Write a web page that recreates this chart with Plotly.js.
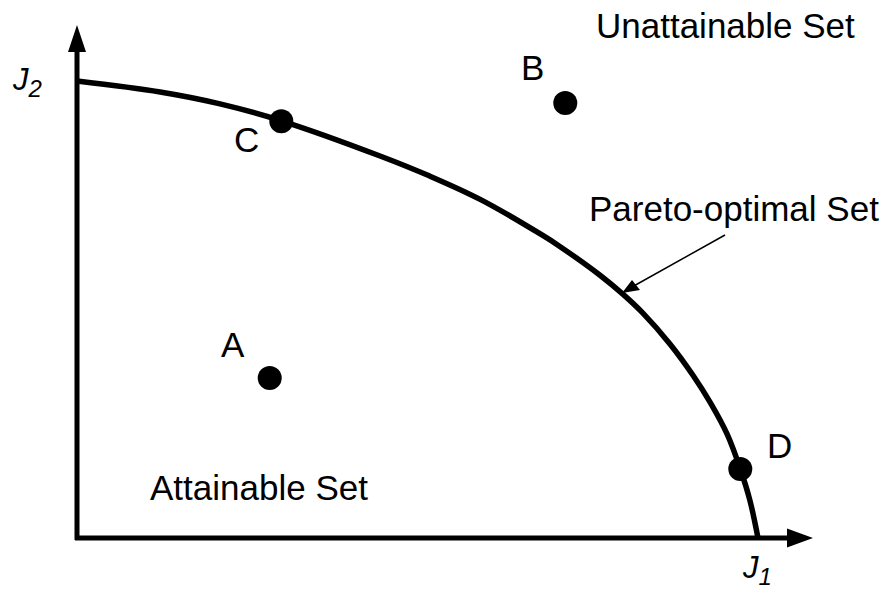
<!DOCTYPE html>
<html>
<head>
<meta charset="utf-8">
<script src="https://cdn.plot.ly/plotly-3.0.1.min.js"></script>
<style>html,body{margin:0;padding:0;background:#fff;}#chart{width:887px;height:590px;}</style>
</head>
<body>
<div id="chart"></div>
<script>
// Pareto front (J1, J2), normalized so the front meets the axes at 1
var frontJ1 = [0, 0.122, 0.210, 0.300, 0.445, 0.518, 0.592, 0.684, 0.709, 0.768, 0.802, 0.831, 0.871, 0.905, 0.930, 0.955, 0.974, 0.988, 1.0];
var frontJ2 = [1.0, 0.976, 0.950, 0.913, 0.836, 0.792, 0.741, 0.662, 0.638, 0.575, 0.533, 0.492, 0.424, 0.355, 0.296, 0.226, 0.151, 0.083, 0];

// Design points
var pointNames = ["A", "B", "C", "D"];
var pointJ1 = [0.283, 0.717, 0.300, 0.974];
var pointJ2 = [0.350, 0.952, 0.912, 0.151];

// Region labels
var regionLabels = ["Unattainable Set", "Pareto-optimal Set", "Attainable Set"];
var axisLabels = [
  "<i>J</i><sub><span style=\"font-size:24px\"><i>1</i></span></sub>",
  "<i>J</i><sub><span style=\"font-size:24px\"><i>2</i></span></sub>"
];

// pixel <-> data mapping for layout geometry
var W = 887, H = 590, ox = 77, oy = 538, sx = 681, sy = 457;
function dx(p) { return (p - ox) / sx; }
function dy(p) { return (oy - p) / sy; }

var font = {family: "Liberation Sans, Arial, sans-serif", size: 35, color: "#000"};

var traces = [
  {x: frontJ1, y: frontJ2, mode: "lines", line: {color: "#000", width: 5.5, shape: "spline", smoothing: 1}, hoverinfo: "skip"},
  {x: pointJ1, y: pointJ2, mode: "markers", marker: {color: "#000", size: 24}, text: pointNames, hoverinfo: "text"}
];

var shapes = [
  // y axis
  {type: "line", x0: dx(77), y0: dy(540), x1: dx(77), y1: dy(48), line: {color: "#000", width: 5}},
  {type: "path", path: "M" + dx(77) + "," + dy(25) + " L" + dx(68) + "," + dy(52) + " L" + dx(86) + "," + dy(52) + " Z", fillcolor: "#000", line: {width: 0}},
  // x axis
  {type: "line", x0: dx(75), y0: dy(538), x1: dx(790), y1: dy(538), line: {color: "#000", width: 5}},
  {type: "path", path: "M" + dx(813) + "," + dy(538) + " L" + dx(787) + "," + dy(528.5) + " L" + dx(787) + "," + dy(547.5) + " Z", fillcolor: "#000", line: {width: 0}},
  // pointer arrow to front
  {type: "line", x0: dx(725), y0: dy(235), x1: dx(632), y1: dy(287), line: {color: "#000", width: 1.5}},
  {type: "path", path: "M" + dx(622) + "," + dy(293) + " L" + dx(632) + "," + dy(280) + " L" + dx(640) + "," + dy(290) + " Z", fillcolor: "#000", line: {width: 0}}
];

function ann(text, px, py, size) {
  var f = Object.assign({}, font);
  if (size) f.size = size;
  return {text: text, x: dx(px), y: dy(py), xref: "x", yref: "y", showarrow: false, xanchor: "center", yanchor: "middle", font: f};
}

var annotations = [
  ann(regionLabels[0], 725, 25),
  ann(regionLabels[1], 734, 208),
  ann(regionLabels[2], 259, 487),
  ann(pointNames[0], 233, 344),
  ann(pointNames[1], 532, 67),
  ann(pointNames[2], 246, 139),
  ann(pointNames[3], 779, 445),
  ann(axisLabels[0], 757, 570, 31),
  ann(axisLabels[1], 27, 82, 31)
];

var layout = {
  width: W, height: H,
  margin: {l: 0, r: 0, t: 0, b: 0},
  paper_bgcolor: "#fff", plot_bgcolor: "#fff",
  showlegend: false,
  xaxis: {range: [dx(0), dx(W)], visible: false, fixedrange: true},
  yaxis: {range: [dy(H), dy(0)], visible: false, fixedrange: true},
  shapes: shapes,
  annotations: annotations
};

Plotly.newPlot("chart", traces, layout, {staticPlot: true, displayModeBar: false});
</script>
</body>
</html>
